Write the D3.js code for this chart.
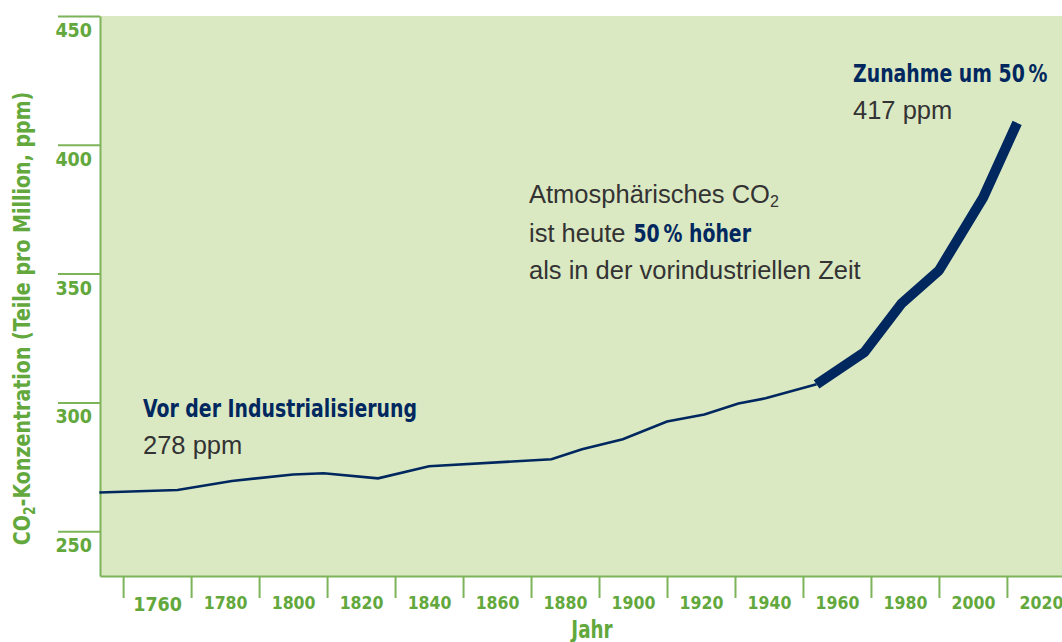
<!DOCTYPE html>
<html>
<head>
<meta charset="utf-8">
<script src="https://cdn.jsdelivr.net/npm/d3@7"></script>
<style>
  body { margin: 0; background: #fff; }
  svg { display: block; }
</style>
</head>
<body>
<div id="chart"></div>
<script>
// CO2-Konzentration seit 1750 — D3 v7

const yearsPre = [1743, 1766, 1782, 1800, 1809, 1825, 1840, 1876, 1885, 1897, 1910, 1921, 1931, 1939, 1954];
const ppmPre   = [265, 266, 269.5, 272, 272.5, 270.5, 275.2, 277.9, 281.8, 285.7, 292.6, 295.3, 299.6, 301.6, 307];
const yearsPost = [1954, 1968, 1979, 1990, 2003, 2013];
const ppmPost   = [307, 319.4, 338.4, 351.2, 379.5, 408.5];

const xTickYears = [1760, 1780, 1800, 1820, 1840, 1860, 1880, 1900, 1920, 1940, 1960, 1980, 2000, 2020];
const yTickValues = [250, 300, 350, 400, 450];

const W = 1062, H = 642;
const green = "#62a83c", axisGreen = "#7db45a", navy = "#00285f", grey = "#333333";
const condensed = "'Liberation Sans Narrow', 'DejaVu Sans Condensed', 'Roboto', sans-serif";
const plain = "'Liberation Sans', 'Roboto', sans-serif";

const plot = { left: 100, right: 1062, top: 16, bottom: 576 };

const svg = d3.select("#chart").append("svg")
  .attr("width", W)
  .attr("height", H);

const x = d3.scaleLinear()
  .domain([1743.2, 2026.2])
  .range([plot.left, plot.right]);

const y = d3.scaleLinear()
  .domain([232.6, 450])
  .range([plot.bottom, plot.top]);

// Hintergrund
svg.append("rect")
  .attr("x", plot.left)
  .attr("y", plot.top)
  .attr("width", plot.right - plot.left)
  .attr("height", plot.bottom - plot.top)
  .attr("fill", "#dbe9c3");

// Y Achse
const yAxis = svg.append("g")
  .attr("transform", `translate(${plot.left},0)`)
  .call(d3.axisLeft(y).tickValues(yTickValues).tickSize(42).tickSizeOuter(0));
yAxis.select(".domain").attr("stroke", axisGreen).attr("stroke-width", 2);
yAxis.selectAll(".tick line").attr("stroke", axisGreen).attr("stroke-width", 2);
yAxis.selectAll(".tick text")
  .attr("x", -8)
  .attr("dy", "1.05em")
  .attr("fill", green)
  .style("font-family", condensed)
  .style("font-weight", "bold")
  .style("font-size", "19.5px");

// X Achse — Trennstriche zwischen den Jahren
const xSep = svg.append("g")
  .attr("transform", `translate(0,${plot.bottom})`)
  .call(d3.axisBottom(x).tickValues(xTickYears.map(d => d - 10)).tickSize(22).tickFormat("").tickSizeOuter(0));
xSep.select(".domain").attr("stroke", axisGreen).attr("stroke-width", 2);
xSep.selectAll(".tick line").attr("stroke", axisGreen).attr("stroke-width", 2);

const xLab = svg.append("g")
  .attr("transform", `translate(0,${plot.bottom})`)
  .call(d3.axisBottom(x).tickValues(xTickYears).tickSize(0).tickFormat(d3.format("d")));
xLab.select(".domain").remove();
xLab.selectAll(".tick text")
  .attr("y", 21)
  .attr("fill", green)
  .style("font-family", condensed)
  .style("font-weight", "bold")
  .style("font-size", d => d === 1760 ? "19.5px" : "17.5px");

// Achsentitel
svg.append("text")
  .attr("transform", `translate(30,${(92 + 545) / 2}) rotate(-90) scale(0.92,1)`)
  .attr("text-anchor", "middle")
  .attr("fill", green)
  .style("font-family", condensed)
  .style("font-weight", "bold")
  .style("font-size", "23px")
  .html("CO<tspan font-size='15px' dy='5'>2</tspan><tspan dy='-5'>-Konzentration (Teile pro Million, ppm)</tspan>");

svg.append("text")
  .attr("transform", `translate(592,638) scale(0.85,1)`)
  .attr("text-anchor", "middle")
  .attr("fill", green)
  .style("font-family", condensed)
  .style("font-weight", "bold")
  .style("font-size", "24px")
  .text("Jahr");

// Linien
const line = d3.line().x(d => x(d[0])).y(d => y(d[1]));

svg.append("path")
  .datum(yearsPre.map((d, i) => [d, ppmPre[i]]))
  .attr("d", line)
  .attr("fill", "none")
  .attr("stroke", navy)
  .attr("stroke-width", 2.6);

svg.append("path")
  .datum(yearsPost.map((d, i) => [d, ppmPost[i]]))
  .attr("d", line)
  .attr("fill", "none")
  .attr("stroke", navy)
  .attr("stroke-width", 10)
  .attr("stroke-linejoin", "round");

// Beschriftungen
function bold(xp, yp, txt) {
  return svg.append("text")
    .attr("transform", `translate(${xp},${yp}) scale(0.84,1)`)
    .attr("fill", navy)
    .style("font-family", condensed)
    .style("font-weight", "bold")
    .style("font-size", "25px")
    .text(txt);
}
function plainText(xp, yp, txt) {
  return svg.append("text")
    .attr("x", xp)
    .attr("y", yp)
    .attr("fill", grey)
    .style("font-family", plain)
    .style("font-size", "25.5px")
    .text(txt);
}

bold(143, 417, "Vor der Industrialisierung");
plainText(143, 454, "278 ppm");
bold(853, 82, "Zunahme um 50\u2009%");
plainText(853, 119, "417 ppm");

plainText(529, 203, "Atmosphärisches CO")
  .append("tspan").attr("font-size", "16px").attr("dy", 4).text("2");
const mid = plainText(529, 242, "ist heute");
bold(529 + mid.node().getComputedTextLength() + 8, 242, "50\u2009% höher");
plainText(529, 279, "als in der vorindustriellen Zeit");
</script>
</body>
</html>
